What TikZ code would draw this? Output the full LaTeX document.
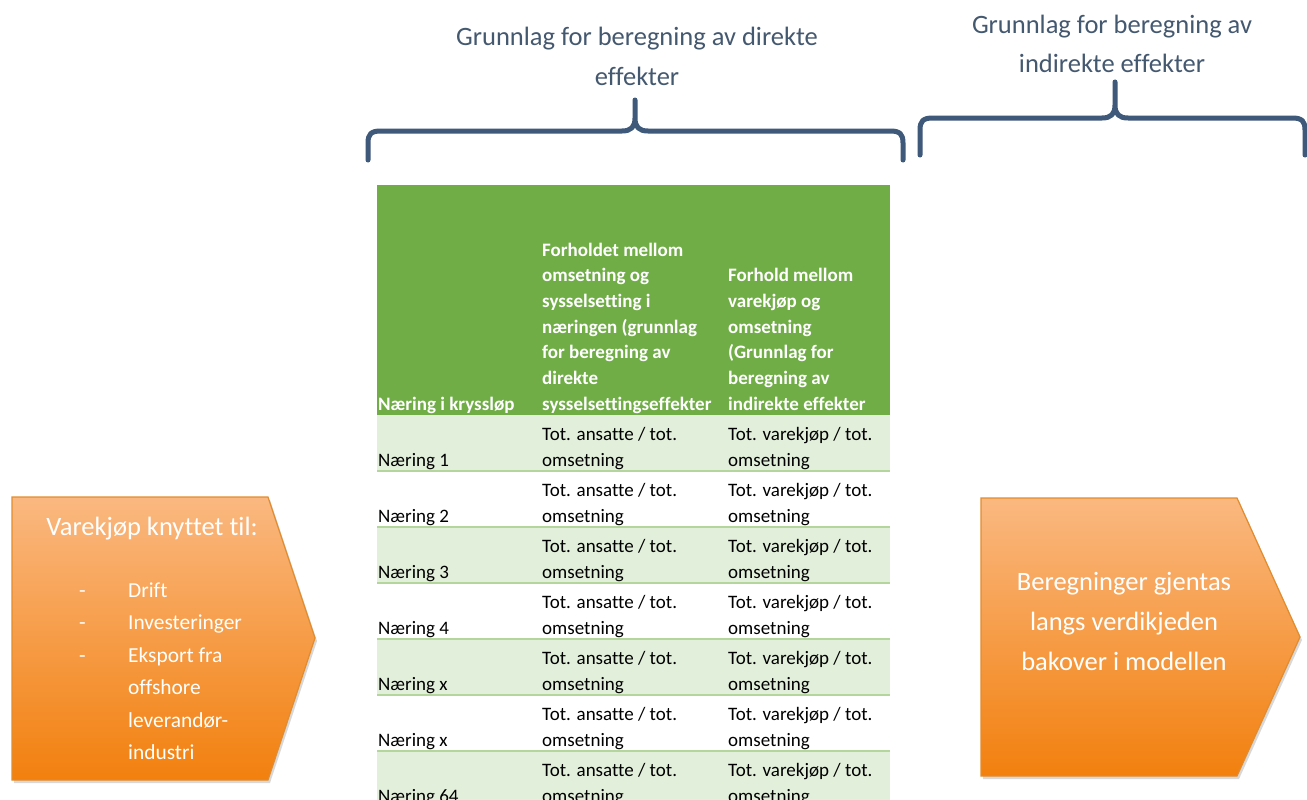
\documentclass[tikz,border=0pt]{standalone}
\usepackage{fontspec}
\setmainfont{Carlito}[Ligatures=CommonOff]
\usetikzlibrary{shadows}
\definecolor{hdrgreen}{RGB}{112,173,71}
\definecolor{bandgreen}{RGB}{226,239,218}
\definecolor{rulegreen}{RGB}{180,214,156}
\definecolor{slate}{RGB}{62,89,122}
\definecolor{slatetext}{RGB}{68,88,112}
\definecolor{orangetop}{RGB}{250,184,128}
\definecolor{orangebot}{RGB}{242,128,14}
\definecolor{orangeedge}{RGB}{226,140,45}
\begin{document}
\begin{tikzpicture}[x=1pt,y=-1pt,
  cell/.style={inner sep=0pt, anchor=base west, font=\fontsize{19}{23}\selectfont, text=black},
  hdr/.style={inner sep=0pt, anchor=base west, text=white, font=\fontsize{19}{23}\selectfont\bfseries},
  title/.style={inner sep=0pt, anchor=base, font=\fontsize{26.5}{32}\selectfont, text=slatetext},
  brace/.style={draw=slate, line width=5pt, line cap=round, line join=round},
  arrowbox/.style={draw=orangeedge, line width=1.2pt, top color=orangetop, bottom color=orangebot,
    drop shadow={opacity=0.3, shadow xshift=2pt, shadow yshift=-3pt}},
  boxtext/.style={inner sep=0pt, anchor=base, text=white, font=\fontsize{26.5}{32}\selectfont},
  itemtext/.style={inner sep=0pt, anchor=base west, text=white, font=\fontsize{21.4}{26}\selectfont}]
\useasboundingbox (0,0) rectangle (1307,800);
\fill[white] (0,0) rectangle (1307,800);

% titles
\node[title] (t1a) at (637,46) {Grunnlag for beregning av direkte};
\node[title] (t1b) at (637,85) {effekter};
\node[title] (t2a) at (1112,34) {Grunnlag for beregning av};
\node[title] (t2b) at (1112,73) {indirekte effekter};

% braces
\draw[brace] (368,160) -- (368,143) .. controls (368,134) and (371,131) .. (381,131)
  -- (622,131) .. controls (631,131) and (635,127) .. (635,118) -- (635,100) -- (635,118)
  .. controls (635,127) and (639,131) .. (648,131) -- (890,131)
  .. controls (900,131) and (903,134) .. (903,143) -- (903,160);
\draw[brace] (920,155) -- (920,130) .. controls (920,121) and (923,118) .. (933,118)
  -- (1102,118) .. controls (1111,118) and (1115,114) .. (1115,105) -- (1115,82) -- (1115,105)
  .. controls (1115,114) and (1119,118) .. (1128,118) -- (1292,118)
  .. controls (1302,118) and (1305,121) .. (1305,130) -- (1305,155);

% table
\begin{scope}
\clip (377,185) rectangle (890,800);
\fill[hdrgreen] (377,185) rectangle (890,415);
\foreach \i in {0,2,4,6}{
  \fill[bandgreen] (377,415+56*\i) rectangle (890,471+56*\i);
}
\foreach \i in {0,...,5}{
  \draw[rulegreen, line width=1.5pt] (377,471+56*\i) -- (890,471+56*\i);
}
\node[hdr] (h1) at (378,410) {Næring i kryssløp};
\foreach \t [count=\n from 0] in {{Forholdet mellom},{omsetning og},{sysselsetting i},{næringen (grunnlag},{for beregning av},{direkte},{sysselsettingseffekter}}{
  \node[hdr] (h2-\n) at (542,256+25.67*\n) {\t};
}
\foreach \t [count=\n from 1] in {{Forhold mellom},{varekjøp og},{omsetning},{(Grunnlag for},{beregning av},{indirekte effekter}}{
  \node[hdr] (h3-\n) at (728,256+25.67*\n) {\t};
}
\foreach \i/\lab in {0/Næring 1,1/Næring 2,2/Næring 3,3/Næring 4,4/Næring x,5/Næring x,6/Næring 64}{
  \node[cell] (lab\i) at (378,466+56*\i) {\lab};
  \node[cell] (a\i) at (542,440+56*\i) {Tot. ansatte / tot.};
  \node[cell] (b\i) at (542,466+56*\i) {omsetning};
  \node[cell] (c\i) at (728,440+56*\i) {Tot. varekjøp / tot.};
  \node[cell] (d\i) at (728,466+56*\i) {omsetning};
}
\end{scope}

% left pentagon
\path[arrowbox] (12,497) -- (268,497) -- (315,638) -- (268,780) -- (12,780) -- cycle;
\node[boxtext] (lbt) at (152,535) {Varekjøp knyttet til:};
\foreach \t/\y [count=\n] in {Drift/597,Investeringer/629,Eksport fra/662,offshore/694,leverandør-/727,industri/759}{
  \node[itemtext] (li\n) at (128,\y) {\t};
}
\node[itemtext] (ld1) at (79,597) {-};
\node[itemtext] (ld2) at (79,629) {-};
\node[itemtext] (ld3) at (79,662) {-};

% right pentagon
\path[arrowbox] (981,498) -- (1237,498) -- (1300,637) -- (1237,776) -- (981,776) -- cycle;
\node[boxtext] (rb1) at (1124,590) {Beregninger gjentas};
\node[boxtext] (rb2) at (1124,630) {langs verdikjeden};
\node[boxtext] (rb3) at (1124,670) {bakover i modellen};
\end{tikzpicture}
\end{document}
